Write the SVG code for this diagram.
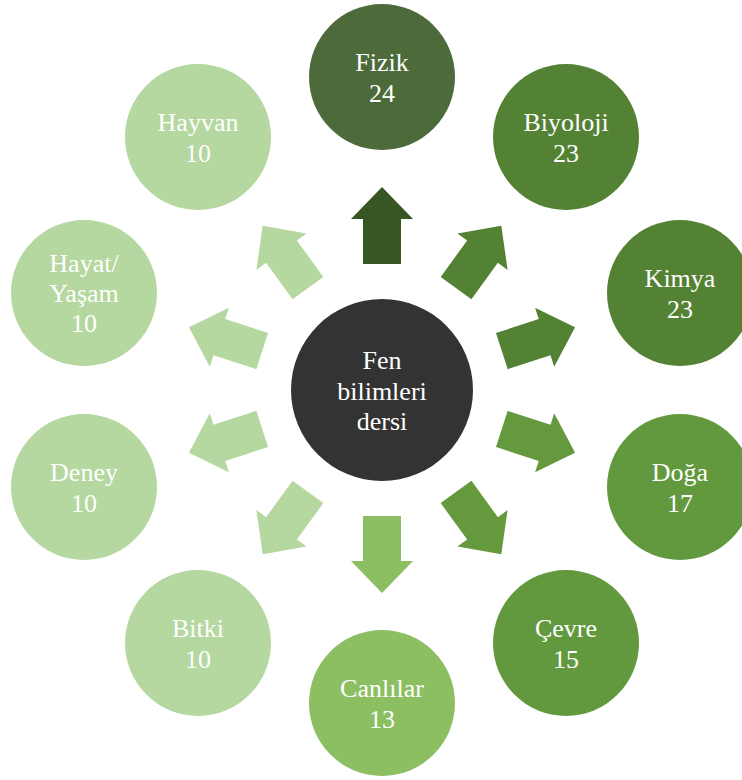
<svg xmlns="http://www.w3.org/2000/svg" xmlns:xlink="http://www.w3.org/1999/xlink" width="742" height="780" viewBox="0 0 742 780">
<style>
text{font-family:"Liberation Serif","Times New Roman",serif;font-size:26px;fill:#ffffff;text-anchor:middle}
.c0{fill:#4C6A3A}.c1{fill:#548235}.c2{fill:#62993E}.c3{fill:#8CBF62}.c4{fill:#B5D7A0}
.a0{fill:#375623}.a1{fill:#548235}.a2{fill:#64993E}.a3{fill:#8CBF62}.a4{fill:#B5D7A0}
</style>
<defs>
<path id="arr" d="M382,187 L413,219 L401,219 L401,264 L363,264 L363,219 L351,219 Z"/>
</defs>
<rect width="742" height="780" fill="#ffffff"/>
<g id="connectors">
<use xlink:href="#arr" class="a0"/>
<use xlink:href="#arr" class="a1" transform="rotate(36 382 390)"/>
<use xlink:href="#arr" class="a1" transform="rotate(72 382 390)"/>
<use xlink:href="#arr" class="a2" transform="rotate(108 382 390)"/>
<use xlink:href="#arr" class="a2" transform="rotate(144 382 390)"/>
<use xlink:href="#arr" class="a3" transform="rotate(180 382 390)"/>
<use xlink:href="#arr" class="a4" transform="rotate(216 382 390)"/>
<use xlink:href="#arr" class="a4" transform="rotate(252 382 390)"/>
<use xlink:href="#arr" class="a4" transform="rotate(288 382 390)"/>
<use xlink:href="#arr" class="a4" transform="rotate(324 382 390)"/>
</g>
<g id="center">
<circle cx="382" cy="390" r="91" fill="#333333"/>
<text x="382" y="369">Fen</text>
<text x="382" y="400">bilimleri</text>
<text x="382" y="430">dersi</text>
</g>
<g id="fizik">
<circle cx="382" cy="77" r="73" class="c0"/>
<text x="382" y="71">Fizik</text>
<text x="382" y="102">24</text>
</g>
<g id="biyoloji">
<circle cx="566" cy="137" r="73" class="c1"/>
<text x="566" y="131">Biyoloji</text>
<text x="566" y="162">23</text>
</g>
<g id="kimya">
<circle cx="680" cy="293" r="73" class="c1"/>
<text x="680" y="287">Kimya</text>
<text x="680" y="318">23</text>
</g>
<g id="doga">
<circle cx="680" cy="487" r="73" class="c2"/>
<text x="680" y="481">Doğa</text>
<text x="680" y="512">17</text>
</g>
<g id="cevre">
<circle cx="566" cy="643" r="73" class="c2"/>
<text x="566" y="637">Çevre</text>
<text x="566" y="668">15</text>
</g>
<g id="canlilar">
<circle cx="382" cy="703" r="73" class="c3"/>
<text x="382" y="697">Canlılar</text>
<text x="382" y="728">13</text>
</g>
<g id="bitki">
<circle cx="198" cy="643" r="73" class="c4"/>
<text x="198" y="637">Bitki</text>
<text x="198" y="668">10</text>
</g>
<g id="deney">
<circle cx="84" cy="487" r="73" class="c4"/>
<text x="84" y="481">Deney</text>
<text x="84" y="512">10</text>
</g>
<g id="hayat">
<circle cx="84" cy="293" r="73" class="c4"/>
<text x="84" y="272">Hayat/</text>
<text x="84" y="302">Yaşam</text>
<text x="84" y="332">10</text>
</g>
<g id="hayvan">
<circle cx="198" cy="137" r="73" class="c4"/>
<text x="198" y="131">Hayvan</text>
<text x="198" y="162">10</text>
</g>
</svg>
